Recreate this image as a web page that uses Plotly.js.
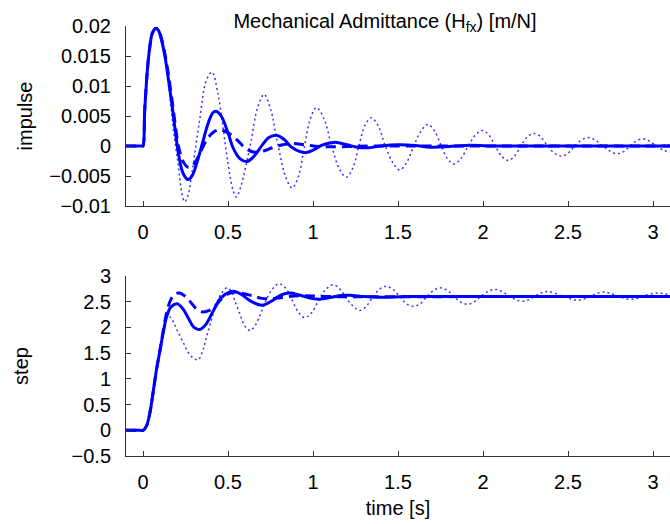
<!DOCTYPE html>
<html>
<head>
<meta charset="utf-8">
<script src="https://cdn.plot.ly/plotly-3.0.1.min.js"></script>
<style>
html,body{margin:0;padding:0;background:#fff;}
#chart{width:670px;height:524px;}
</style>
</head>
<body>
<div id="chart"></div>
<script>
// ---- data ----
const impulseSolidT = [-0.1,-0.02,-0.005,0,0.01,0.02,0.03,0.04,0.055,0.075,0.09,0.11,0.13,0.15,0.17,0.19,0.21,0.235,0.265,0.29,0.32,0.35,0.38,0.41,0.43,0.46,0.5,0.53,0.57,0.61,0.65,0.7,0.74,0.785,0.83,0.87,0.92,0.96,1.0,1.05,1.1,1.14,1.2,1.26,1.32,1.4,1.5,1.6,1.69,1.8,1.9,2.1,2.5,3.1];
const impulseSolidV = [0,0,0,0,0.006,0.0105,0.014,0.0165,0.0188,0.0196,0.0193,0.0175,0.0148,0.011,0.007,0.0025,-0.0015,-0.0045,-0.0056,-0.0049,-0.0025,0.0005,0.0035,0.0055,0.0058,0.005,0.0022,-0.0003,-0.0021,-0.0026,-0.0018,0.0001,0.0014,0.0018,0.0011,-0.0001,-0.0009,-0.0011,-0.0007,0.0001,0.0005,0.0006,0.0002,-0.0002,-0.0003,0,0.0002,0.0001,-0.0002,-0.0001,0.0001,0,0,0];

const impulseDashT = [-0.1,-0.02,-0.005,0,0.01,0.02,0.03,0.04,0.055,0.075,0.09,0.11,0.13,0.15,0.17,0.19,0.21,0.24,0.27,0.3,0.33,0.37,0.41,0.45,0.5,0.55,0.6,0.65,0.7,0.76,0.82,0.88,0.95,1.05,1.2,1.35,2.0,3.1];
const impulseDashV = [0,0,0,0,0.006,0.0105,0.014,0.0165,0.0188,0.0196,0.0194,0.0178,0.0152,0.0118,0.0078,0.0035,-0.0002,-0.0028,-0.0036,-0.003,-0.0015,0.0008,0.0022,0.0027,0.0022,0.0011,-0.0003,-0.001,-0.0009,-0.0003,0.0002,0.0004,0.0002,-0.0001,-0.0001,0,0,0];

const impulseDotT = [-0.1,-0.02,-0.005,0,0.01,0.02,0.03,0.04,0.055,0.075,0.09,0.11,0.13,0.157,0.18,0.206,0.226,0.245,0.265,0.285,0.304,0.333,0.373,0.406,0.441,0.47,0.5,0.53,0.549,0.575,0.63,0.675,0.712,0.75,0.795,0.84,0.877,0.915,0.95,0.985,1.02,1.065,1.11,1.155,1.196,1.235,1.27,1.305,1.343,1.385,1.425,1.47,1.51,1.55,1.593,1.635,1.676,1.715,1.755,1.79,1.83,1.87,1.913,1.955,1.997,2.035,2.072,2.11,2.147,2.185,2.223,2.26,2.3,2.34,2.38,2.42,2.46,2.5,2.54,2.58,2.62,2.66,2.705,2.75,2.79,2.83,2.865,2.9,2.94,2.98,3.02,3.06,3.1];
const impulseDotV = [0,0,0,0,0.006,0.0105,0.014,0.0165,0.0188,0.0196,0.0194,0.018,0.0152,0.0085,0.0025,-0.0029,-0.0074,-0.0093,-0.0082,-0.005,-0.0013,0.0043,0.011,0.0123,0.0087,0.0032,-0.0029,-0.0074,-0.0085,-0.0068,0,0.0065,0.0086,0.0062,0,-0.0052,-0.007,-0.005,0,0.0046,0.0064,0.0045,0,-0.0038,-0.0052,-0.0036,0,0.0034,0.0047,0.0033,0,-0.0028,-0.004,-0.0028,0,0.0025,0.0036,0.0025,0,-0.0021,-0.003,-0.0021,0,0.0018,0.0026,0.0018,0,-0.0017,-0.0024,-0.0017,0,0.0015,0.0021,0.0015,0,-0.0012,-0.0017,-0.0012,0,0.001,0.0014,0.001,0,-0.0009,-0.0013,-0.0009,0,0.0008,0.0012,0.0008,0,-0.0007,-0.001];

const stepSolidT = [-0.1,-0.02,0,0.02,0.04,0.06,0.08,0.1,0.12,0.14,0.165,0.2,0.235,0.27,0.3,0.333,0.37,0.41,0.46,0.51,0.54,0.58,0.63,0.7,0.76,0.81,0.863,0.92,0.98,1.04,1.1,1.16,1.216,1.3,1.4,1.55,2.0,3.1];
const stepSolidV = [0,0,0,0.08,0.33,0.75,1.19,1.55,1.92,2.22,2.4,2.46,2.36,2.16,2.0,1.96,2.06,2.3,2.58,2.69,2.7,2.64,2.52,2.43,2.52,2.63,2.67,2.63,2.57,2.55,2.58,2.62,2.625,2.6,2.585,2.6,2.6,2.6];

const stepDashT = [-0.1,-0.02,0,0.02,0.04,0.06,0.08,0.1,0.12,0.14,0.165,0.19,0.216,0.255,0.29,0.325,0.355,0.39,0.42,0.46,0.5,0.55,0.6,0.64,0.69,0.74,0.79,0.85,0.92,1.0,1.1,1.3,2.0,3.1];
const stepDashV = [0,0,0,0.08,0.33,0.75,1.19,1.56,1.95,2.3,2.55,2.65,2.67,2.59,2.45,2.33,2.3,2.33,2.4,2.55,2.65,2.69,2.65,2.62,2.57,2.555,2.57,2.6,2.615,2.61,2.6,2.595,2.6,2.6];

const stepDotT = [-0.1,-0.02,0,0.02,0.04,0.06,0.08,0.1,0.12,0.14,0.16,0.18,0.2,0.235,0.265,0.294,0.324,0.353,0.373,0.402,0.431,0.461,0.494,0.52,0.54,0.569,0.6,0.63,0.66,0.69,0.72,0.76,0.8,0.84,0.87,0.91,0.95,0.99,1.03,1.07,1.118,1.16,1.2,1.24,1.275,1.31,1.35,1.39,1.43,1.47,1.51,1.55,1.59,1.63,1.67,1.71,1.745,1.79,1.83,1.87,1.91,1.95,1.99,2.03,2.07,2.11,2.15,2.19,2.235,2.27,2.31,2.35,2.38,2.42,2.47,2.52,2.56,2.6,2.65,2.706,2.75,2.8,2.84,2.88,2.92,2.96,3.02,3.06,3.1];
const stepDotV = [0,0,0,0.08,0.33,0.75,1.19,1.55,1.9,2.17,2.2,2.1,1.95,1.72,1.52,1.41,1.37,1.56,1.81,2.14,2.46,2.66,2.77,2.7,2.52,2.27,2.02,1.94,2.04,2.25,2.5,2.74,2.85,2.76,2.58,2.32,2.19,2.28,2.5,2.72,2.83,2.74,2.55,2.4,2.33,2.4,2.58,2.74,2.8,2.74,2.6,2.46,2.41,2.46,2.6,2.72,2.77,2.72,2.6,2.49,2.45,2.5,2.61,2.7,2.74,2.7,2.62,2.54,2.51,2.54,2.62,2.68,2.7,2.67,2.6,2.55,2.53,2.56,2.63,2.69,2.66,2.6,2.56,2.55,2.58,2.63,2.67,2.66,2.63];

const xTickVals = [0,0.5,1,1.5,2,2.5,3];
const xTickText = ['0','0.5','1','1.5','2','2.5','3'];
const impulseTickVals = [-0.01,-0.005,0,0.005,0.01,0.015,0.02];
const impulseTickText = ['\u22120.01','\u22120.005','0','0.005','0.01','0.015','0.02'];
const stepTickVals = [-0.5,0,0.5,1,1.5,2,2.5,3];
const stepTickText = ['\u22120.5','0','0.5','1','1.5','2','2.5','3'];

// ---- styling ----
const blue = '#0000ff';
const fontFam = '"Liberation Sans", Arial, Helvetica, sans-serif';
const solidLine = {color: blue, width: 3, shape: 'spline', smoothing: 1};
const dashLine = {color: blue, width: 3, dash: '10px,6px', shape: 'spline', smoothing: 1};
const dotLine = {color: 'rgba(0,0,255,0.8)', width: 1.5, dash: '2px,3px', shape: 'spline', smoothing: 1};

function tr(x, y, line, xa, ya) {
  return {x: x, y: y, type: 'scatter', mode: 'lines', line: line, xaxis: xa, yaxis: ya, hoverinfo: 'skip'};
}

const data = [
  tr(impulseDotT, impulseDotV, dotLine, 'x', 'y'),
  tr(impulseDashT, impulseDashV, dashLine, 'x', 'y'),
  tr(impulseSolidT, impulseSolidV, solidLine, 'x', 'y'),
  tr(stepDotT, stepDotV, dotLine, 'x2', 'y2'),
  tr(stepDashT, stepDashV, dashLine, 'x2', 'y2'),
  tr(stepSolidT, stepSolidV, solidLine, 'x2', 'y2')
];

const axisCommon = {
  showline: true, linecolor: '#333', linewidth: 1,
  ticks: 'inside', ticklen: 5, tickwidth: 1, tickcolor: '#333',
  showgrid: false, zeroline: false, mirror: false,
  tickfont: {family: fontFam, size: 20, color: '#000'}
};

const layout = {
  width: 670, height: 524,
  margin: {l: 126, r: 0, t: 26, b: 68},
  paper_bgcolor: '#fff', plot_bgcolor: '#fff',
  showlegend: false,
  font: {family: fontFam, size: 20, color: '#000'},
  title: {
    text: 'Mechanical Admittance (H<sub>fx</sub>) [m/N]',
    xref: 'paper', x: (385 - 126) / 544, xanchor: 'center',
    yref: 'container', y: 1 - 21 / 524, yanchor: 'middle',
    font: {family: fontFam, size: 20, color: '#000'}
  },
  xaxis: Object.assign({}, axisCommon, {
    domain: [0, 1], anchor: 'y', range: [-0.1, 3.1],
    tickvals: xTickVals, ticktext: xTickText, ticklabelstandoff: 8
  }),
  yaxis: Object.assign({}, axisCommon, {
    domain: [250 / 430, 1], anchor: 'x', range: [-0.01, 0.02],
    tickvals: impulseTickVals, ticktext: impulseTickText, ticklabelstandoff: 10,
    title: {text: 'impulse', standoff: 11, font: {family: fontFam, size: 20, color: '#000'}}
  }),
  xaxis2: Object.assign({}, axisCommon, {
    domain: [0, 1], anchor: 'y2', range: [-0.1, 3.1],
    tickvals: xTickVals, ticktext: xTickText, ticklabelstandoff: 8,
    title: {text: 'time [s]', standoff: 8, font: {family: fontFam, size: 20, color: '#000'}}
  }),
  yaxis2: Object.assign({}, axisCommon, {
    domain: [0, 180 / 430], anchor: 'x2', range: [-0.5, 3],
    tickvals: stepTickVals, ticktext: stepTickText, ticklabelstandoff: 10,
    title: {text: 'step', standoff: 37, font: {family: fontFam, size: 20, color: '#000'}}
  })
};

Plotly.newPlot('chart', data, layout, {displayModeBar: false, staticPlot: true});
</script>
</body>
</html>
